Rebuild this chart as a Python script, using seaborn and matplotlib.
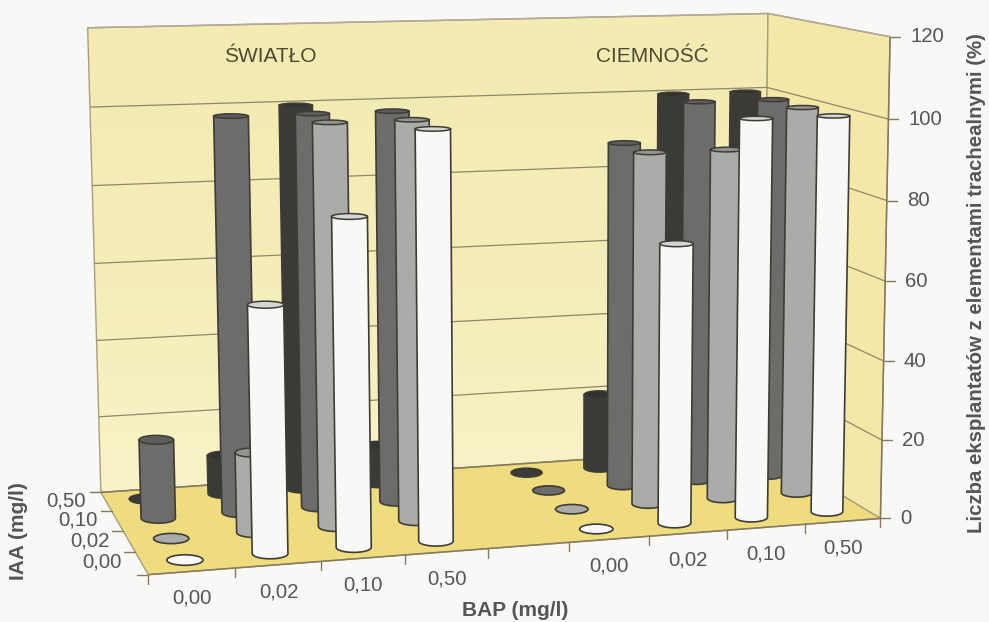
import numpy as np
import pandas as pd
import seaborn as sns
import matplotlib
matplotlib.use("Agg")
import matplotlib.pyplot as plt
from matplotlib.colors import LinearSegmentedColormap
from matplotlib.patches import Ellipse, Polygon

sns.set_theme(style="white")
plt.rcParams["font.family"] = ["Liberation Sans", "DejaVu Sans"]

# --------------------------
# data
# --------------------------
bap_labels = ["0,00", "0,02", "0,10", "0,50", "", "0,00", "0,02", "0,10", "0,50"]
iaa_labels = ["0,00", "0,02", "0,10", "0,50"]
z_ticks = [0, 20, 40, 60, 80, 100, 120]

light_iaa_000 = [0, 60, 80, 100]
light_iaa_002 = [0, 20, 100, 100]
light_iaa_010 = [20, 100, 100, 100]
light_iaa_050 = [0, 10, 100, 10]

dark_iaa_000 = [0, 70, 100, 100]
dark_iaa_002 = [0, 90, 90, 100]
dark_iaa_010 = [0, 90, 100, 100]
dark_iaa_050 = [0, 20, 100, 100]

rows = []
for row, (lt, dk) in enumerate([
    (light_iaa_000, dark_iaa_000),
    (light_iaa_002, dark_iaa_002),
    (light_iaa_010, dark_iaa_010),
    (light_iaa_050, dark_iaa_050),
]):
    for k in range(4):
        rows.append({"col": k, "row": row, "value": lt[k]})
        rows.append({"col": k + 5, "row": row, "value": dk[k]})
df = pd.DataFrame(rows)

bar_colors = sns.color_palette(["#f8f8f6", "#ababa9", "#6c6c6a", "#3a3a37"])
edge_color = "#3f3c37"
text_color = "#555553"
page_color = "#f8f8f6"

# --------------------------
# camera: box corners (x, y, z) -> pixels, solved once
# --------------------------
box_world = [(0, 0, 0), (1, 0, 0), (1, 1, 0), (0, 1, 0), (0, 1, 1), (1, 1, 1), (1, 0, 1)]
box_pixel = [(149, 576), (878, 518), (765, 448), (100, 491), (88, 28), (766, 14), (892, 36)]

A, b = [], []
for (X, Y, Z), (u, v) in zip(box_world, box_pixel):
    A.append([X, Y, Z, 1, 0, 0, 0, 0, -u * X, -u * Y, -u * Z])
    A.append([0, 0, 0, 0, X, Y, Z, 1, -v * X, -v * Y, -v * Z])
    b += [u, v]
cam = np.append(np.linalg.lstsq(np.array(A, float), np.array(b, float), rcond=None)[0], 1).reshape(3, 4)


def project(x, y, z):
    """x, y in 0-1 of the floor, z in percent"""
    p = cam @ np.array([x, y, z / 120, 1.0])
    return p[:2] / p[2]


fig = plt.figure(figsize=(9.89, 6.22), dpi=100, facecolor=page_color)
ax = fig.add_axes([0, 0, 1, 1])


def panel(corners, color):
    patch = Polygon([project(*c) for c in corners], closed=True, fc=color, ec="#a89f80", lw=1.0, zorder=1)
    ax.add_patch(patch)
    return patch


def seg(a, b, **kw):
    pa, pb = project(*a), project(*b)
    ax.plot([pa[0], pb[0]], [pa[1], pb[1]], solid_capstyle="butt", **kw)


# walls and floor, back wall fades lighter towards the floor
back = panel([(0, 1, 0), (1, 1, 0), (1, 1, 120), (0, 1, 120)], "none")
fade = LinearSegmentedColormap.from_list("fade", ["#f2ebb2", "#f4edb8", "#f8f3c8"])
img = ax.imshow(np.linspace(0, 1, 64).reshape(-1, 1), cmap=fade, extent=(80, 775, 495, 10),
                aspect="auto", zorder=0.5)
img.set_clip_path(back)
panel([(1, 1, 0), (1, 0, 0), (1, 0, 120), (1, 1, 120)], "#f3e8a8")
panel([(0, 0, 0), (1, 0, 0), (1, 1, 0), (0, 1, 0)], "#efdc7e")

ax.set_xlim(0, 989)
ax.set_ylim(622, 0)
ax.axis("off")

# gridlines
for z in z_ticks[1:-1]:
    seg((0, 1, z), (1, 1, z), color="#8f8768", lw=0.9, zorder=2)
    seg((1, 1, z), (1, 0, z), color="#8f8768", lw=0.9, zorder=2)
seg((0, 0, 0), (1, 0, 0), color="#857a5c", lw=1.1, zorder=2)
seg((0, 1, 0), (1, 1, 0), color="#857a5c", lw=1.1, zorder=2)
seg((1, 0, 0), (1, 0, 120), color="#857a5c", lw=1.1, zorder=2)
seg((0, 1, 120), (1, 1, 120), color="#b5a79c", lw=1.1, zorder=2)
seg((1, 1, 120), (1, 0, 120), color="#b5a79c", lw=1.1, zorder=2)

# cylinders, back row first
r_world = 0.0235
zo = 10
for _, d in df.sort_values(["row", "col"], ascending=[False, True]).iterrows():
    xc = (d["col"] + 0.5) / 9
    yc = (d["row"] + 0.5) / 4
    val = d["value"]
    color = bar_colors[int(d["row"])]
    base = project(xc, yc, 0)
    w0 = project(xc + r_world, yc, 0)[0] - project(xc - r_world, yc, 0)[0]
    h0 = w0 * 0.29
    if val == 0:
        ax.add_patch(Ellipse(base, w0, h0, fc=color, ec=edge_color, lw=1.2, zorder=zo))
        zo += 1
        continue
    top = project(xc, yc, val)
    w1 = project(xc + r_world, yc, val)[0] - project(xc - r_world, yc, val)[0]
    h1 = w1 * (0.29 - 0.0016 * val)
    t = np.linspace(0, np.pi, 40)
    arc = np.column_stack([base[0] + w0 / 2 * np.cos(t), base[1] + h0 / 2 * np.sin(t)])
    body = np.vstack([arc, [top[0] - w1 / 2, top[1]], [top[0] + w1 / 2, top[1]]])
    ax.add_patch(Polygon(body, closed=True, fc=color, ec=edge_color, lw=1.2, zorder=zo))
    cap = tuple(np.array(color) * 0.86)
    ax.add_patch(Ellipse(top, w1, h1, fc=cap, ec=edge_color, lw=1.1, zorder=zo + 1))
    zo += 2

# x ticks and labels
for k in range(10):
    p = project(k / 9, 0, 0)
    ax.plot([p[0], p[0]], [p[1], p[1] + 9], color="#857a5c", lw=1.0, zorder=3)
for k, lab in enumerate(bap_labels):
    p = project((k + 0.5) / 9, 0, 0)
    ax.text(p[0], p[1] + 27, lab, ha="center", va="center", fontsize=14.7, color=text_color)

# depth ticks and labels
for k in range(5):
    p = project(0, k / 4, 0)
    ax.plot([p[0] - 11, p[0]], [p[1], p[1]], color="#857a5c", lw=1.0, zorder=3)
for k, lab in enumerate(iaa_labels):
    p = project(0, (k + 0.5) / 4, 0)
    ax.text(p[0] - 20, p[1] - 1, lab, ha="right", va="center", fontsize=14.7, color=text_color)

# z ticks and labels
for z in z_ticks:
    p = project(1, 0, z)
    ax.plot([p[0], p[0] + 10], [p[1], p[1]], color="#857a5c", lw=1.0, zorder=3)
    ax.text(p[0] + 20, p[1], str(z), ha="left", va="center", fontsize=14.7, color=text_color)

ax.text(270, 57, "ŚWIATŁO", ha="center", va="center", fontsize=15, color="#4c4a30")
ax.text(652, 57, "CIEMNOŚĆ", ha="center", va="center", fontsize=15, color="#4c4a30")
ax.text(515, 610, "BAP (mg/l)", ha="center", va="center", fontsize=15, fontweight="bold", color=text_color)
ax.text(19, 531, "IAA (mg/l)", ha="center", va="center", rotation=90, fontsize=15, fontweight="bold", color=text_color)
ax.text(977, 283, "Liczba eksplantatów z elementami trachealnymi (%)", ha="center", va="center",
        rotation=90, fontsize=14.7, fontweight="bold", color=text_color)

fig.savefig("out.png", dpi=100, facecolor=page_color)
